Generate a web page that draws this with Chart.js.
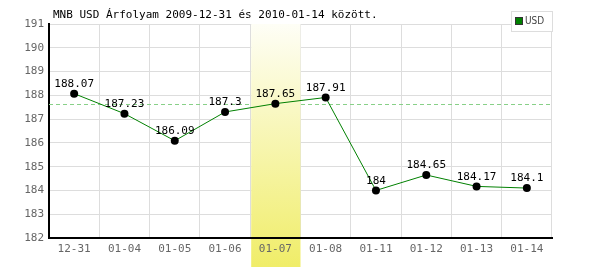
<!DOCTYPE html>
<html>
<head>
<meta charset="utf-8">
<script src="https://cdn.jsdelivr.net/npm/chart.js@4/dist/chart.umd.min.js"></script>
<style>
  html, body { margin: 0; padding: 0; background: #fff; }
  #wrap { width: 600px; height: 270px; position: relative; }
</style>
</head>
<body>
<div id="wrap"><canvas id="grafico" width="600" height="270"></canvas></div>
<script>
const napok = ["12-31", "01-04", "01-05", "01-06", "01-07", "01-08", "01-11", "01-12", "01-13", "01-14"];
const arfolyam = [188.07, 187.23, 186.09, 187.3, 187.65, 187.91, 184, 184.65, 184.17, 184.1];
const kiemeltNap = 4;
const referencia = 187.65;
const cim = "MNB USD Árfolyam 2009-12-31 és 2010-01-14 között.";
const mono = "'DejaVu Sans Mono', 'Liberation Mono', monospace";

// sárga sáv a kiemelt nap mögött + szaggatott vonal
const savPlugin = {
  id: "sav",
  beforeDatasetsDraw(chart) {
    const { ctx, chartArea, scales } = chart;
    const x = scales.x;
    const w = x.getPixelForValue(1) - x.getPixelForValue(0);
    const cx = x.getPixelForValue(kiemeltNap);
    // szaggatott referencia vonal
    const y = scales.y.getPixelForValue(referencia);
    ctx.save();
    ctx.strokeStyle = "#88d088";
    ctx.lineWidth = 1;
    ctx.setLineDash([4, 3]);
    ctx.beginPath();
    ctx.moveTo(chartArea.left, Math.round(y) + 0.5);
    ctx.lineTo(chartArea.right, Math.round(y) + 0.5);
    ctx.stroke();
    ctx.setLineDash([]);
    const g = ctx.createLinearGradient(0, chartArea.top, 0, 267);
    g.addColorStop(0, "#fefef6");
    g.addColorStop(1, "#f0ed68");
    ctx.fillStyle = g;
    ctx.fillRect(cx - w / 2 + 1, chartArea.top, w - 1, 267 - chartArea.top);
    ctx.restore();
    if (typeof x.drawBorder === "function") x.drawBorder();
  },
  afterDatasetsDraw(chart) {
    const { ctx } = chart;
    const meta = chart.getDatasetMeta(0);
    ctx.save();
    ctx.font = "11px " + mono;
    ctx.fillStyle = "#000";
    ctx.textAlign = "center";
    ctx.textBaseline = "bottom";
    meta.data.forEach((p, i) => {
      ctx.fillText(String(arfolyam[i]), p.x, p.y - 4);
    });
    // cím
    ctx.textAlign = "left";
    ctx.textBaseline = "middle";
    ctx.fillText(cim, 53, 15);
    // jelmagyarázat
    ctx.fillStyle = "#fff";
    ctx.fillRect(511.5, 11.5, 41, 20);
    ctx.strokeStyle = "#dddddd";
    ctx.strokeRect(511.5, 11.5, 41, 20);
    ctx.fillStyle = "#008000";
    ctx.fillRect(516, 18, 6, 6);
    ctx.strokeStyle = "#333";
    ctx.strokeRect(515.5, 17.5, 7, 7);
    ctx.fillStyle = "#444";
    ctx.font = "10px 'Liberation Sans Narrow', 'DejaVu Sans Condensed', sans-serif";
    ctx.fillText("USD", 525, 21.5);
    ctx.restore();
  }
};

new Chart(document.getElementById("grafico"), {
  type: "line",
  data: {
    labels: napok,
    datasets: [{
      data: arfolyam,
      borderColor: "#008000",
      borderWidth: 1,
      tension: 0,
      pointRadius: 4,
      pointBackgroundColor: "#000",
      pointBorderColor: "#000",
      pointBorderWidth: 0
    }]
  },
  options: {
    responsive: false,
    animation: false,
    layout: { padding: { left: 0, top: 24, right: 48, bottom: 0 } },
    plugins: { legend: { display: false }, tooltip: { enabled: false } },
    scales: {
      x: {
        offset: true,
        grid: { color: "#dddddd", offset: true, drawTicks: false },
        border: { color: "#000", width: 2 },
        ticks: { color: "#666", font: { family: mono, size: 11 }, padding: 5, maxRotation: 0, autoSkip: false, z: 1 },
        afterFit(s) { s.height = 32; }
      },
      y: {
        min: 182,
        max: 191,
        grid: { color: "#dddddd", drawTicks: false },
        border: { color: "#000", width: 2 },
        ticks: { stepSize: 1, color: "#666", font: { family: mono, size: 11 }, padding: 5 },
        afterFit(s) { s.width = 49; }
      }
    }
  },
  plugins: [savPlugin]
});
</script>
</body>
</html>
